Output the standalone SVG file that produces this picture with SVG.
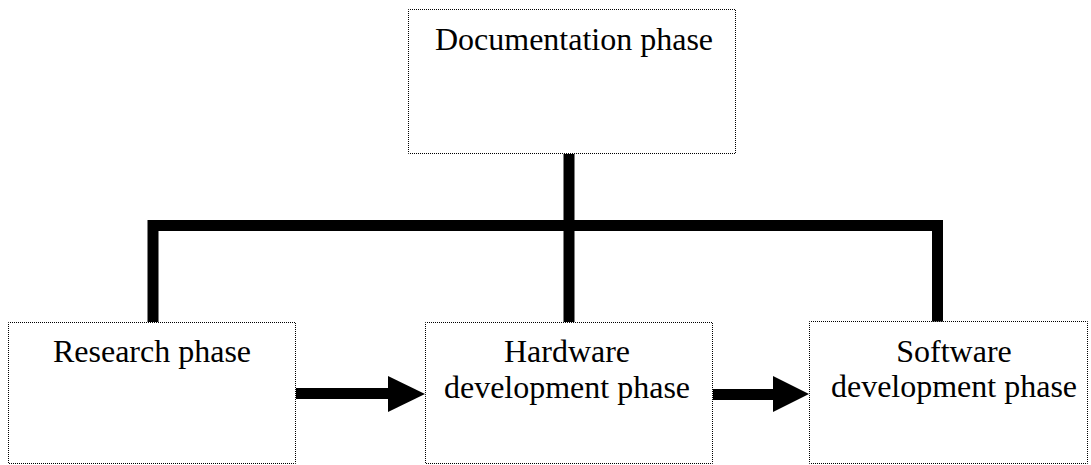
<svg xmlns="http://www.w3.org/2000/svg" width="1091" height="465" viewBox="0 0 1091 465">
<defs>
<style>
.box{fill:#fff;stroke:#000;stroke-width:1;stroke-dasharray:1 1;stroke-dashoffset:0.5}
.lbl{font-family:"Liberation Serif","Times New Roman",serif;font-size:32px;fill:#000;text-anchor:middle}
.wire{fill:none;stroke:#000;stroke-width:11;stroke-linejoin:miter;stroke-linecap:butt}
.head{fill:#000}
</style>
</defs>
<g id="connectors">
<path class="wire" d="M569,154 V322"/>
<path class="wire" d="M153,322 V225.5 H937.5 V322"/>
<path class="wire" d="M296,393.5 H390"/>
<polygon class="head" points="388,376 425,394 388,412"/>
<path class="wire" d="M713,394.5 H775"/>
<polygon class="head" points="773,376 809,394 773,412"/>
</g>
<g id="documentation">
<rect class="box" x="408.5" y="9.5" width="327" height="144"/>
<text class="lbl" x="574" y="50">Documentation phase</text>
</g>
<g id="research">
<rect class="box" x="8.5" y="322.5" width="287" height="141"/>
<text class="lbl" x="152" y="362">Research phase</text>
</g>
<g id="hardware">
<rect class="box" x="425.5" y="322.5" width="287" height="141"/>
<text class="lbl" x="567" y="362">Hardware</text>
<text class="lbl" x="567" y="398">development phase</text>
</g>
<g id="software">
<rect class="box" x="809.5" y="321.5" width="278" height="142"/>
<text class="lbl" x="954" y="362">Software</text>
<text class="lbl" x="954" y="397">development phase</text>
</g>
</svg>
